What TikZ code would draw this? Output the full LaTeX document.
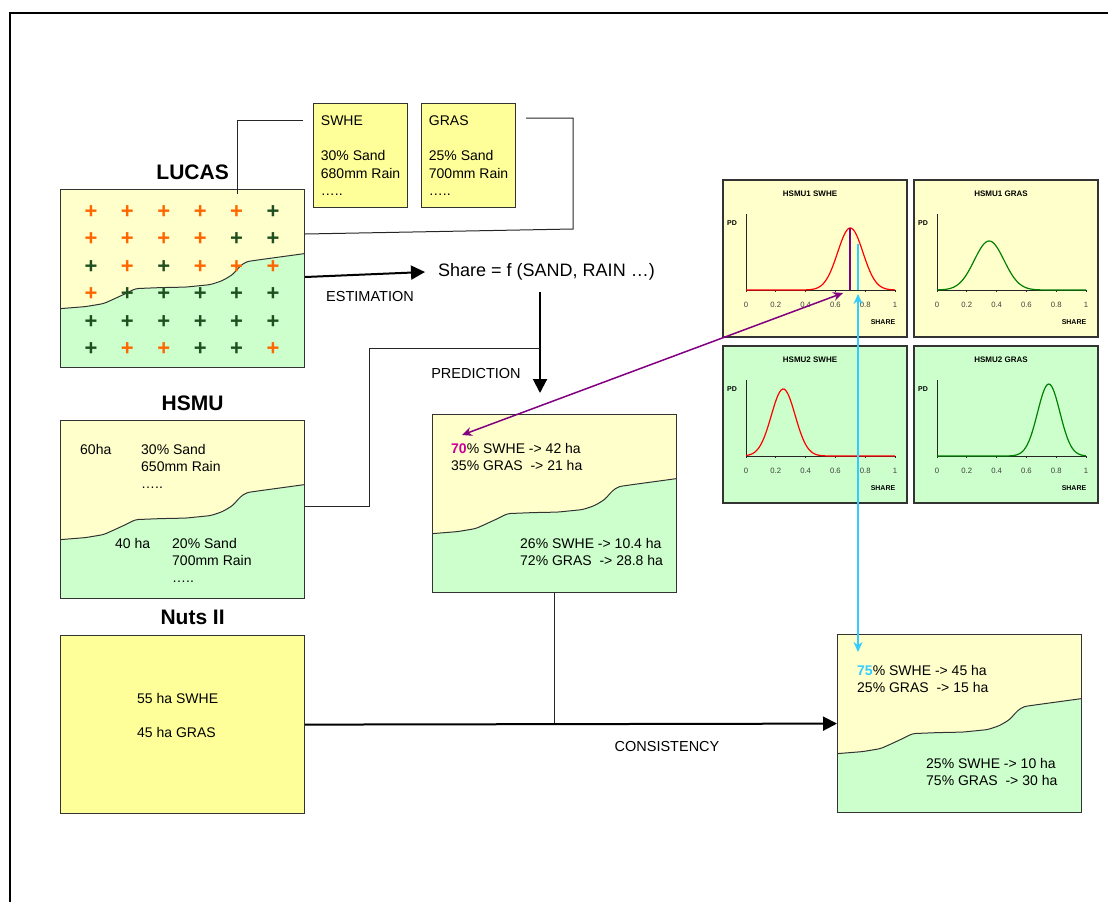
\documentclass[tikz,border=0pt]{standalone}
\usepackage{fontspec}
\setmainfont{Liberation Sans}
\usetikzlibrary{calc,arrows.meta,positioning}

\definecolor{paleyellow}{HTML}{FFFFCC}
\definecolor{palegreen}{HTML}{CCFFCC}
\definecolor{noteyellow}{HTML}{FFFF99}
\definecolor{plusO}{HTML}{FF6600}
\definecolor{plusG}{HTML}{1F4F1F}
\definecolor{estpurple}{HTML}{800080}
\definecolor{estmagenta}{HTML}{CC0099}
\definecolor{estcyan}{HTML}{33CCFF}
\definecolor{curvegreen}{HTML}{008000}

\newcommand{\sharechart}[6]{%
  \node[charttitle] (#1-title) at ($(#1.north west)+(88,15)$) {#2};
  \node[chartlabel] (#1-pd) at ($(#1.north west)+(10,44)$) {PD};
  \node[chartlabel] (#1-share) at ($(#1.north west)+(161,143)$) {SHARE};
  \coordinate (#1-o) at ($(#1.north west)+(24,111)$);
  \draw[axisline] ($(#1-o)+(0,-76)$) -- (#1-o) -- ++(149,0);
  \foreach \t [count=\i] in {0,0.2,0.4,0.6,0.8,1} {
    \draw[axisline] ($(#1-o)+(149*\t,0)$) -- ++(0,2);
    \node[ticklabel] (#1-tick\i) at ($(#1-o)+(149*\t,15)$) {\t};
  }
  \begin{scope}[shift={(#1-o)}]
    \draw[#3, line width=1.2pt] plot[domain=0:1, samples=90]
      ({149*\x}, {-#6*exp(-((\x-#4)^2)/(2*#5^2))});
  \end{scope}
}

\begin{document}
\begin{tikzpicture}[x=1pt, y=-1pt,
    txt/.style={font=\fontsize{14}{17}\selectfont, inner sep=0pt,
      align=left, anchor=north west},
    steplabel/.style={font=\fontsize{14.5}{17}\selectfont, inner sep=0pt},
    boxtitle/.style={font=\fontsize{21}{25}\bfseries\selectfont, inner sep=0pt},
    plus/.style={font=\fontsize{22}{22}\bfseries\selectfont, inner sep=0pt},
    note/.style={draw=black!80, line width=1.2pt, fill=noteyellow,
      minimum width=94, minimum height=104, inner sep=0pt, align=left,
      font=\fontsize{14}{17.5}\selectfont, anchor=north west},
    region line/.style={insert path={
      -- ++(25,-2) -- ++(18,-3) -- ++(9,-4) -- ++(13,-6) -- ++(10,-5)
      -- ++(25,-1) -- ++(25,-0.5) -- ++(25,-2.5) -- ++(12,-4) -- ++(10,-6)
      -- ++(8,-9) -- ++(6,-4) -- ++(14,-2) -- ++(44,-6)}},
    splitbox/.style={draw=black!80, line width=1.2pt, fill=paleyellow,
      minimum width=244, minimum height=178, inner sep=0pt, anchor=north west,
      path picture={
        \fill[palegreen, rounded corners=3pt]
          ($(path picture bounding box.north west)+(0,119)$)
          [region line] |- (path picture bounding box.south west) -- cycle;
        \draw[line width=1pt, rounded corners=3pt]
          ($(path picture bounding box.north west)+(0,119)$) [region line];
      }},
    panel/.style={draw=black!80, line width=1.5pt, minimum width=184,
      minimum height=157, inner sep=0pt, anchor=north west},
    charttitle/.style={font=\fontsize{8}{9}\bfseries\selectfont, inner sep=0pt},
    chartlabel/.style={font=\fontsize{7}{8}\bfseries\selectfont, inner sep=0pt},
    ticklabel/.style={font=\fontsize{7.7}{8}\selectfont, inner sep=0pt, text=black!75},
    axisline/.style={line width=0.7pt, black!85},
    thinline/.style={line width=1pt, black!85},
    bigarrow/.style={line width=2pt, -{Triangle[length=14pt,width=14pt]}},
    duoarrow/.style={line width=1.5pt,
      {Stealth[length=10pt,width=9pt]}-{Stealth[length=10pt,width=9pt]}}]

  \useasboundingbox (0,0) rectangle (1108,902);
  \draw[line width=2pt] (10,902) -- (10,13) -- (1108,13);

  % survey points
  \node[splitbox] (lucas) at (60,189) {};
  \node[boxtitle] (lucas-title) at ($(lucas.north)+(10,-17)$) {LUCAS};
  \foreach \row [count=\r] in {{O,O,O,O,O,G},{O,O,O,O,G,G},{G,O,G,O,O,O},
      {O,G,G,G,G,G},{G,G,G,G,G,G},{G,O,O,G,G,O}}
    \foreach \c [count=\k] in \row
      \node[plus, text=plus\c] (lucas-\r-\k)
        at ($(lucas.north west)+({31+36.4*(\k-1)},{23+27.4*(\r-1)})$) {+};

  \node[note] (swhe) at (313,103) {SWHE\\[18pt]30\% Sand\\680mm Rain\\…..};
  \node[note] (gras) at (421,103) {GRAS\\[18pt]25\% Sand\\700mm Rain\\…..};
  \draw[thinline] ($(lucas.north west)+(177,5)$) |- ($(swhe.north west)+(-10,17)$);
  \draw[thinline] ($(gras.north east)+(10,15)$) -| ($(gras.north east)+(57,126)$)
    -- ($(lucas.north east)+(0,45)$);

  \node[font=\fontsize{18}{21}\selectfont, inner sep=0pt, anchor=west] (share)
    at (438,272) {Share = f (SAND, RAIN …)};
  \draw[bigarrow] ($(lucas.north east)+(0,88)$) -- ([xshift=-13pt]share.west);
  \node[steplabel] (estimation) at (370,297) {ESTIMATION};

  % soil mapping units
  \node[splitbox] (hsmu) at (60,420) {};
  \node[boxtitle] (hsmu-title) at ($(hsmu.north)+(10,-17)$) {HSMU};
  \node[txt] (hsmu-a) at ($(hsmu.north west)+(20,24)$) {60ha};
  \node[txt] (hsmu-b) at ($(hsmu.north west)+(81,24)$) {30\% Sand\\650mm Rain\\…..};
  \node[txt] (hsmu-c) at ($(hsmu.north west)+(55,118)$) {40 ha};
  \node[txt] (hsmu-d) at ($(hsmu.north west)+(112,118)$) {20\% Sand\\700mm Rain\\…..};

  % prediction
  \node[splitbox] (pred) at (432,414) {};
  \node[txt] (pred-a) at ($(pred.north west)+(19,29)$)
    {\textcolor{estmagenta}{\bfseries 70}\% SWHE -> 42 ha\\35\% GRAS\ \ -> 21 ha};
  \node[txt] (pred-b) at ($(pred.north west)+(88,124)$)
    {26\% SWHE -> 10.4 ha\\72\% GRAS\ \ -> 28.8 ha};
  \coordinate (predin) at ($(pred.north west)+(108,-21)$);
  \coordinate (predout) at ($(predin)+(0,-101)$);
  \coordinate (predjoin) at ($(predin)+(0,-45)$);
  \draw[bigarrow] (predout) -- (predin);
  \draw[thinline] ($(hsmu.north east)+(0,86)$) -| ($(predjoin)+(-171,0)$) -- (predjoin);
  \node[steplabel] (prediction) at (476,374) {PREDICTION};

  % regional statistics
  \node[draw=black!80, line width=1.2pt, fill=noteyellow, minimum width=244,
    minimum height=178, inner sep=0pt, anchor=north west] (nuts) at (60,635) {};
  \node[boxtitle] (nuts-title) at ($(nuts.north)+(10,-18)$) {Nuts II};
  \node[txt, anchor=west] (nuts-a) at ($(nuts.north west)+(77,80)$)
    {55 ha SWHE\\[17pt]45 ha GRAS};

  % consistent result
  \node[splitbox] (final) at (837,634) {};
  \node[txt] (final-a) at ($(final.north west)+(20,31)$)
    {\textcolor{estcyan}{\bfseries 75}\% SWHE -> 45 ha\\25\% GRAS\ \ -> 15 ha};
  \node[txt] (final-b) at ($(final.north west)+(89,124)$)
    {25\% SWHE -> 10 ha\\75\% GRAS\ \ -> 30 ha};
  \draw[line width=1.5pt, black!85] (pred.south) -- (pred.south |- nuts.east);
  \draw[bigarrow] (nuts.east) -- (final.west);
  \node[steplabel] (consistency) at (667,746) {CONSISTENCY};

  % share distributions
  \node[panel, fill=paleyellow] (h1swhe) at (722,179) {};
  \node[panel, fill=paleyellow] (h1gras) at (913,179) {};
  \node[panel, fill=palegreen] (h2swhe) at (722,345) {};
  \node[panel, fill=palegreen] (h2gras) at (913,345) {};
  \sharechart{h1swhe}{HSMU1 SWHE}{red}{0.7}{0.085}{62}
  \sharechart{h1gras}{HSMU1 GRAS}{curvegreen}{0.35}{0.1}{49}
  \sharechart{h2swhe}{HSMU2 SWHE}{red}{0.25}{0.08}{67}
  \sharechart{h2gras}{HSMU2 GRAS}{curvegreen}{0.75}{0.075}{72}
  \draw[estpurple, line width=2pt] ($(h1swhe-o)+(104.3,0)$) -- ++(0,-62);
  \draw[estcyan, line width=2pt] ($(h1swhe-o)+(111.75,0)$) -- ++(0,-46);

  \coordinate (purplechart) at ($(h1swhe-o)+(97,3)$);
  \coordinate (purplebox) at ($(pred.north west)+(30,21)$);
  \coordinate (cyanchart) at ($(h1swhe-o)+(112,4)$);
  \coordinate (cyanbox) at ($(final.north west)+(21,18)$);
  \draw[duoarrow, estpurple] (purplechart) -- (purplebox);
  \draw[duoarrow, estcyan] (cyanchart) -- (cyanbox);
\end{tikzpicture}
\end{document}
